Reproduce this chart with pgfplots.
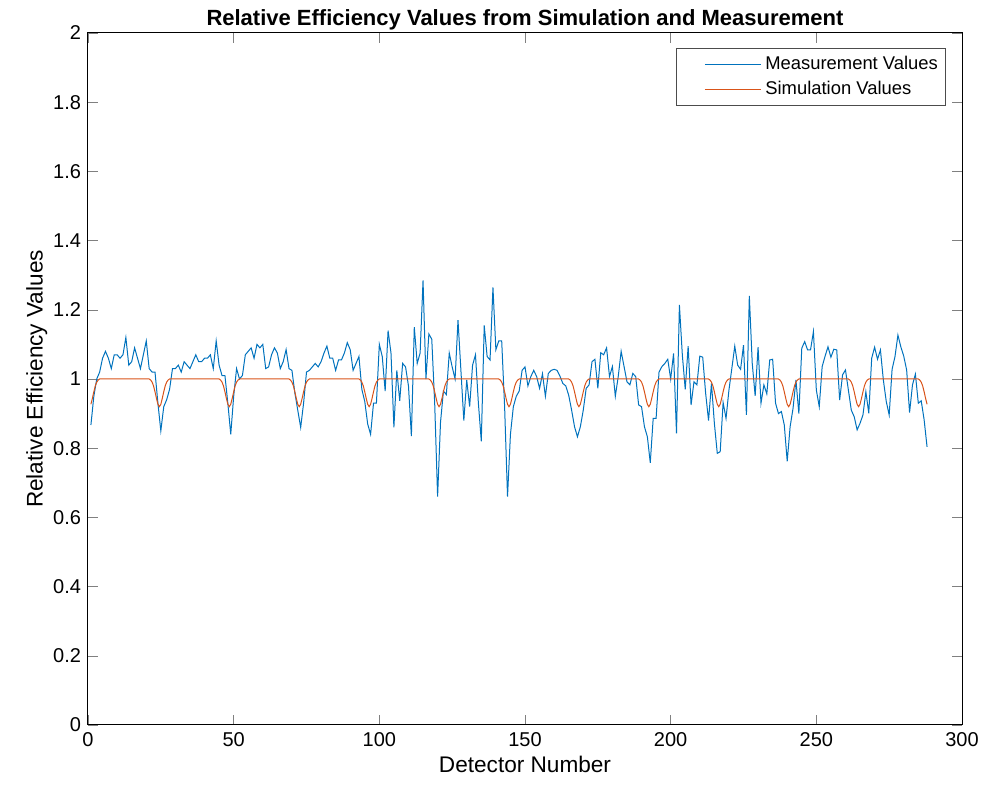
\documentclass[border=0pt]{standalone}
\usepackage{pgfplots}
\pgfplotsset{compat=1.18}
\usepackage{fontspec}
\setmainfont{Liberation Sans}
\definecolor{mblue}{rgb}{0,0.447,0.741}
\definecolor{morange}{rgb}{0.85,0.325,0.098}
\pgfplotsset{mylegend/.style={legend image code/.code={\draw[draw=none] (0pt,-1pt) rectangle (40pt,1pt); \draw[##1] (12pt,0pt) -- (40pt,0pt);}}}
\begin{document}
\begin{tikzpicture}
\useasboundingbox (-44pt,-30.5pt) rectangle (456pt,362.5pt);
\begin{axis}[
  scale only axis,
  width=437pt, height=346pt,
  xmin=0, xmax=300, ymin=0, ymax=2,
  xtick={0,50,...,300},
  ytick={0,0.2,...,2.01},
  tick align=inside,
  tick pos=both,
  major tick length=5pt,
  /pgf/number format/assume math mode=true,
  tick label style={font=\fontsize{10}{12}\selectfont},
  yticklabel style={/pgf/number format/fixed},
  title={\bfseries Relative Efficiency Values from Simulation and Measurement},
  title style={font=\fontsize{11}{13}\selectfont, yshift=-8pt},
  xlabel={Detector Number},
  ylabel={Relative Efficiency Values},
  label style={font=\fontsize{11.3}{13}\selectfont},
  xlabel style={yshift=2pt},
  ylabel style={yshift=-4pt},
  axis line style={line width=0.5pt},
  legend style={at={(0.982,0.978)}, anchor=north east, font=\fontsize{9.2}{11}\selectfont, draw=black!70, line width=0.4pt, inner xsep=2pt, inner ysep=2pt, row sep=0pt, cells={anchor=west}},
]
\addplot[color=mblue, line width=0.5pt, mylegend] coordinates {
(1,0.867) (2,0.95) (3,1.0) (4,1.02) (5,1.06) (6,1.08) (7,1.06) (8,1.03) (9,1.07) (10,1.07)
(11,1.06) (12,1.07) (13,1.12) (14,1.04) (15,1.05) (16,1.09) (17,1.06) (18,1.03) (19,1.07) (20,1.11)
(21,1.03) (22,1.02) (23,1.02) (24,0.93) (25,0.85) (26,0.92) (27,0.94) (28,0.97) (29,1.03) (30,1.03)
(31,1.04) (32,1.02) (33,1.05) (34,1.04) (35,1.03) (36,1.05) (37,1.07) (38,1.05) (39,1.05) (40,1.06)
(41,1.06) (42,1.07) (43,1.03) (44,1.11) (45,1.04) (46,1.01) (47,1.01) (48,0.93) (49,0.84) (50,0.95)
(51,1.03) (52,1.0) (53,1.01) (54,1.07) (55,1.08) (56,1.09) (57,1.06) (58,1.1) (59,1.09) (60,1.1)
(61,1.03) (62,1.035) (63,1.07) (64,1.09) (65,1.075) (66,1.03) (67,1.05) (68,1.085) (69,1.03) (70,1.025)
(71,0.96) (72,0.91) (73,0.86) (74,0.93) (75,1.02) (76,1.025) (77,1.035) (78,1.045) (79,1.035) (80,1.05)
(81,1.075) (82,1.095) (83,1.06) (84,1.06) (85,1.025) (86,1.055) (87,1.055) (88,1.075) (89,1.105) (90,1.085)
(91,1.025) (92,1.045) (93,1.065) (94,0.97) (95,0.935) (96,0.87) (97,0.84) (98,0.93) (99,0.93) (100,1.1)
(101,1.065) (102,0.965) (103,1.14) (104,1.075) (105,0.86) (106,1.025) (107,0.937) (108,1.045) (109,1.035) (110,0.98)
(111,0.835) (112,1.15) (113,1.045) (114,1.075) (115,1.285) (116,1.0) (117,1.13) (118,1.115) (119,0.93) (120,0.66)
(121,0.875) (122,0.965) (123,0.955) (124,1.075) (125,1.035) (126,1.0) (127,1.17) (128,1.025) (129,0.88) (130,0.997)
(131,0.92) (132,1.04) (133,1.07) (134,0.93) (135,0.82) (136,1.155) (137,1.065) (138,1.055) (139,1.265) (140,1.085)
(141,1.11) (142,1.11) (143,0.92) (144,0.66) (145,0.84) (146,0.92) (147,0.95) (148,0.965) (149,1.025) (150,1.035)
(151,0.98) (152,1.007) (153,1.025) (154,1.007) (155,0.973) (156,1.015) (157,0.95) (158,1.016) (159,1.025) (160,1.028)
(161,1.025) (162,1.008) (163,0.987) (164,0.98) (165,0.953) (166,0.91) (167,0.862) (168,0.833) (169,0.862) (170,0.91)
(171,0.973) (172,0.983) (173,1.05) (174,1.057) (175,0.973) (176,1.076) (177,1.07) (178,1.09) (179,1.007) (180,1.036)
(181,0.95) (182,1.007) (183,1.08) (184,1.036) (185,0.992) (186,0.983) (187,1.016) (188,1.007) (189,0.925) (190,0.92)
(191,0.862) (192,0.833) (193,0.758) (194,0.886) (195,0.886) (196,1.02) (197,1.036) (198,1.045) (199,1.057) (200,1.0)
(201,1.074) (202,0.843) (203,1.214) (204,1.07) (205,0.97) (206,1.095) (207,0.925) (208,0.992) (209,0.983) (210,1.066)
(211,1.063) (212,0.959) (213,0.88) (214,0.987) (215,0.872) (216,0.785) (217,0.79) (218,0.932) (219,0.886) (220,0.968)
(221,1.031) (222,1.095) (223,1.04) (224,1.028) (225,1.098) (226,0.896) (227,1.24) (228,1.045) (229,0.951) (230,1.092)
(231,0.93) (232,0.983) (233,0.957) (234,1.055) (235,1.057) (236,0.93) (237,0.9) (238,0.906) (239,0.867) (240,0.762)
(241,0.862) (242,0.915) (243,0.997) (244,0.9) (245,1.089) (246,1.108) (247,1.084) (248,1.084) (249,1.137) (250,0.968)
(251,0.92) (252,1.036) (253,1.066) (254,1.093) (255,1.063) (256,1.086) (257,1.084) (258,0.939) (259,1.012) (260,1.026)
(261,0.968) (262,0.91) (263,0.891) (264,0.853) (265,0.872) (266,0.896) (267,0.963) (268,0.901) (269,1.06) (270,1.092)
(271,1.057) (272,1.084) (273,0.997) (274,0.935) (275,0.896) (276,1.028) (277,1.065) (278,1.127) (279,1.093) (280,1.066)
(281,1.026) (282,0.903) (283,0.983) (284,1.014) (285,0.93) (286,0.937) (287,0.882) (288,0.804)
};
\addlegendentry{Measurement Values}
\addplot[color=morange, line width=0.5pt, mylegend] coordinates {
(1,0.927) (1.5,0.944) (2,0.963) (2.5,0.98) (3,0.991) (3.5,0.997) (4,1)
(21,1) (21.5,0.997) (22,0.991) (22.5,0.98) (23,0.963) (23.5,0.944) (24,0.927) (24.5,0.92) (25,0.927) (25.5,0.944) (26,0.963) (26.5,0.98) (27,0.991) (27.5,0.997) (28,1)
(45,1) (45.5,0.997) (46,0.991) (46.5,0.98) (47,0.963) (47.5,0.944) (48,0.927) (48.5,0.92) (49,0.927) (49.5,0.944) (50,0.963) (50.5,0.98) (51,0.991) (51.5,0.997) (52,1)
(69,1) (69.5,0.997) (70,0.991) (70.5,0.98) (71,0.963) (71.5,0.944) (72,0.927) (72.5,0.92) (73,0.927) (73.5,0.944) (74,0.963) (74.5,0.98) (75,0.991) (75.5,0.997) (76,1)
(93,1) (93.5,0.997) (94,0.991) (94.5,0.98) (95,0.963) (95.5,0.944) (96,0.927) (96.5,0.92) (97,0.927) (97.5,0.944) (98,0.963) (98.5,0.98) (99,0.991) (99.5,0.997) (100,1)
(117,1) (117.5,0.997) (118,0.991) (118.5,0.98) (119,0.963) (119.5,0.944) (120,0.927) (120.5,0.92) (121,0.927) (121.5,0.944) (122,0.963) (122.5,0.98) (123,0.991) (123.5,0.997) (124,1)
(141,1) (141.5,0.997) (142,0.991) (142.5,0.98) (143,0.963) (143.5,0.944) (144,0.927) (144.5,0.92) (145,0.927) (145.5,0.944) (146,0.963) (146.5,0.98) (147,0.991) (147.5,0.997) (148,1)
(165,1) (165.5,0.997) (166,0.991) (166.5,0.98) (167,0.963) (167.5,0.944) (168,0.927) (168.5,0.92) (169,0.927) (169.5,0.944) (170,0.963) (170.5,0.98) (171,0.991) (171.5,0.997) (172,1)
(189,1) (189.5,0.997) (190,0.991) (190.5,0.98) (191,0.963) (191.5,0.944) (192,0.927) (192.5,0.92) (193,0.927) (193.5,0.944) (194,0.963) (194.5,0.98) (195,0.991) (195.5,0.997) (196,1)
(213,1) (213.5,0.997) (214,0.991) (214.5,0.98) (215,0.963) (215.5,0.944) (216,0.927) (216.5,0.92) (217,0.927) (217.5,0.944) (218,0.963) (218.5,0.98) (219,0.991) (219.5,0.997) (220,1)
(237,1) (237.5,0.997) (238,0.991) (238.5,0.98) (239,0.963) (239.5,0.944) (240,0.927) (240.5,0.92) (241,0.927) (241.5,0.944) (242,0.963) (242.5,0.98) (243,0.991) (243.5,0.997) (244,1)
(261,1) (261.5,0.997) (262,0.991) (262.5,0.98) (263,0.963) (263.5,0.944) (264,0.927) (264.5,0.92) (265,0.927) (265.5,0.944) (266,0.963) (266.5,0.98) (267,0.991) (267.5,0.997) (268,1)
(285,1) (285.5,0.997) (286,0.991) (286.5,0.98) (287,0.963) (287.5,0.944) (288,0.927)
};
\addlegendentry{Simulation Values}
\end{axis}
\end{tikzpicture}
\end{document}
